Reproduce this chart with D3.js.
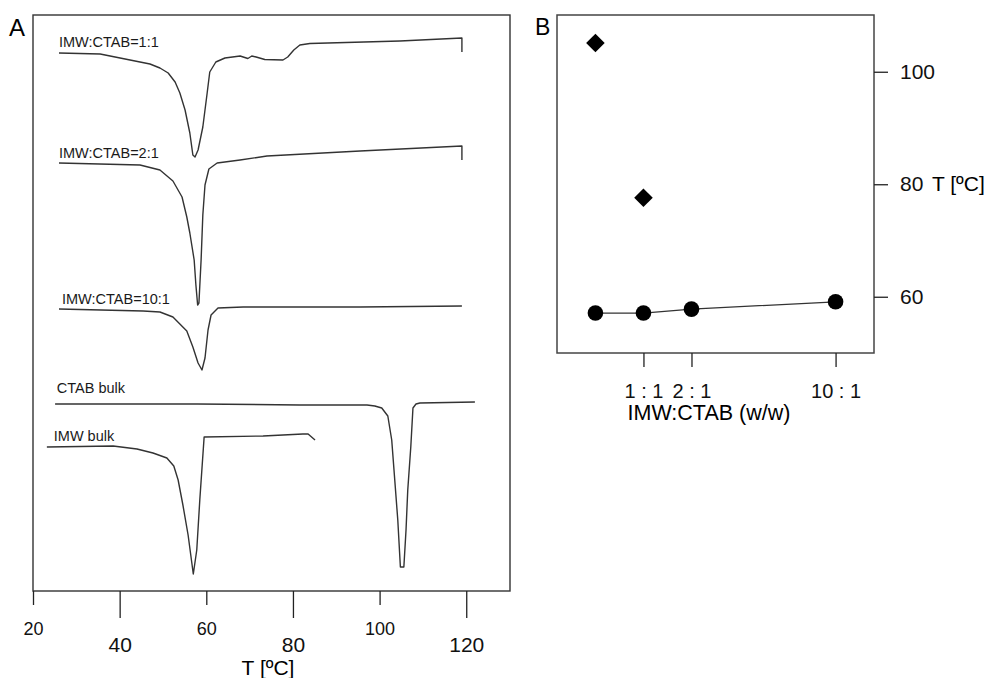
<!DOCTYPE html>
<html lang="en">
<head>
	<meta charset="utf-8">
	<script src="https://d3js.org/d3.v7.min.js"></script>
	<style type="text/css">
		body {
			margin: 0;
			background: #fff;
			font-family: "Liberation Sans", Arial, sans-serif;
		}
	</style>
</head>
<body>
	<script type="text/javascript">

	// Panel A: DSC traces, [T in degC, heat flow in a.u.]
	var trace11 = [[26.0,53.8],[35.5,53.7],[42.4,53.1],[47.0,52.7],[49.3,52.3],[51.2,51.8],[52.8,50.9],[53.9,49.8],
		[55.1,48.1],[56.2,45.8],[56.9,43.6],[57.4,43.4],[58.1,44.1],[59.2,46.4],[60.2,49.8],[60.8,51.9],[62.2,52.9],
		[64.3,53.3],[67.8,53.5],[69.6,53.25],[70.5,53.5],[71.5,53.4],[73.5,53.15],[77.7,53.1],[78.8,53.4],[80.2,54.1],
		[81.6,54.6],[83.9,54.75],[104.7,55.0],[119.0,55.3],[119.0,53.9]];
	var trace21 = [[26.0,42.8],[44.7,42.6],[49.3,42.1],[52.3,41.0],[54.4,39.4],[55.5,37.4],[56.2,35.8],[57.2,33.1],
		[57.6,30.6],[58.0,28.6],[58.3,28.8],[58.8,33.1],[59.2,37.6],[59.7,40.6],[60.6,42.2],[62.5,42.8],[67.8,43.1],
		[74.0,43.5],[95.5,44.0],[119.0,44.5],[119.0,43.1]];
	var trace101 = [[26.0,28.2],[45.4,28.0],[49.3,27.9],[52.3,27.4],[53.9,26.7],[55.5,26.0],[56.9,24.4],[58.1,22.8],
		[59.0,22.1],[59.7,23.3],[60.4,26.1],[61.1,27.6],[62.7,28.3],[68.5,28.4],[95.5,28.4],[119.0,28.5]];
	var ctabBulk = [[25.1,18.7],[57.9,18.7],[81.6,18.6],[97.1,18.6],[98.9,18.5],[100.5,18.3],[101.9,17.5],[102.8,15.1],
		[103.5,11.1],[104.2,7.1],[104.8,2.4],[105.6,2.4],[106.1,6.1],[106.5,10.1],[107.2,14.4],[107.7,18.3],
		[108.4,18.7],[109.3,18.8],[122.0,18.9]];
	var imwBulk = [[23.2,14.4],[38.5,14.5],[44.0,14.2],[47.7,13.8],[50.9,13.3],[52.5,12.5],[53.5,11.1],[54.6,8.6],
		[55.8,5.6],[57.0,1.7],[57.8,4.1],[58.5,9.1],[59.5,15.4],[73.1,15.5],[82.3,15.7],[83.5,15.7],[85.1,15.1]];

	var traceNames = ["IMW:CTAB=1:1", "IMW:CTAB=2:1", "IMW:CTAB=10:1", "CTAB bulk", "IMW bulk"];
	var traceLabelAt = [[26.0,54.4],[26.0,43.3],[26.7,28.7],[25.5,19.8],[24.8,15.0]];
	var ticksA = [20, 40, 60, 80, 100, 120];

	// Panel B: transition temperatures vs mixing ratio
	var ratioPos = [0, 1, 2, 5];
	var ratioTicks = [1, 2, 5];
	var ratioLabels = ["1 : 1", "2 : 1", "10 : 1"];
	var lowPeak = [57.1, 57.1, 57.8, 59.1];
	var highPos = [0, 1];
	var highPeak = [105.1, 77.6];
	var ticksB = [60, 80, 100];

	var width = 985, height = 678;
	var svg = d3.select("body").append("svg")
		.attr("width", width)
		.attr("height", height);

	// ---------- panel A ----------
	var ax = {left: 33, right: 510, top: 15, bottom: 591};
	var xA = d3.scaleLinear().domain([20, 130.1]).range([ax.left, ax.right]);
	var yA = d3.scaleLinear().domain([0, 57.6]).range([ax.bottom, ax.top]);

	svg.append("rect")
		.attr("x", ax.left).attr("y", ax.top)
		.attr("width", ax.right - ax.left).attr("height", ax.bottom - ax.top)
		.style("fill", "none").style("stroke", "#333").style("stroke-width", 1.4);

	var lineA = d3.line()
		.x(function(d) { return xA(d[0]); })
		.y(function(d) { return yA(d[1]); });

	var traces = [trace11, trace21, trace101, ctabBulk, imwBulk];
	svg.selectAll("path.trace")
		.data(traces)
		.enter().append("path")
		.attr("class", "trace")
		.attr("d", lineA)
		.style("fill", "none")
		.style("stroke", "#333")
		.style("stroke-width", 1.4)
		.style("stroke-linejoin", "round");

	svg.selectAll("text.tlabel")
		.data(traceNames)
		.enter().append("text")
		.attr("class", "tlabel")
		.attr("x", function(d, i) { return xA(traceLabelAt[i][0]); })
		.attr("y", function(d, i) { return yA(traceLabelAt[i][1]); })
		.style("font-size", "14.5px")
		.style("fill", "#1a1a1a")
		.text(function(d) { return d; });

	var axisA = svg.append("g")
		.attr("transform", "translate(0," + ax.bottom + ")")
		.call(d3.axisBottom(xA).tickValues(ticksA).tickSizeOuter(0).tickFormat(d3.format("d")));
	axisA.select(".domain").remove();
	axisA.selectAll(".tick line")
		.attr("y2", function(d, i) { return i % 2 ? 27 : 14; })
		.style("stroke", "#222").style("stroke-width", 1.3);
	axisA.selectAll(".tick text")
		.attr("y", function(d, i) { return i % 2 ? 61 : 44; })
		.attr("dy", 0)
		.style("font-family", "'Liberation Sans', Arial, sans-serif")
		.style("font-size", function(d, i) { return i % 2 ? "21px" : "18px"; })
		.style("fill", "#111");

	svg.append("text")
		.attr("x", 268).attr("y", 675)
		.attr("text-anchor", "middle")
		.style("font-size", "21px")
		.text("T [ºC]");

	svg.append("text")
		.attr("x", 9).attr("y", 36)
		.style("font-size", "24px")
		.text("A");

	// ---------- panel B ----------
	var bx = {left: 557, right: 874, top: 15, bottom: 353};
	var xB = d3.scaleLinear().domain([-0.8, 5.8]).range([bx.left, bx.right]);
	var yB = d3.scaleLinear().domain([50, 110]).range([bx.bottom, bx.top + 0.5]);

	svg.append("rect")
		.attr("x", bx.left).attr("y", bx.top)
		.attr("width", bx.right - bx.left).attr("height", bx.bottom - bx.top)
		.style("fill", "none").style("stroke", "#444").style("stroke-width", 1.5);

	var lowPts = ratioPos.map(function(p, i) { return [p, lowPeak[i]]; });
	var highPts = highPos.map(function(p, i) { return [p, highPeak[i]]; });

	svg.append("path")
		.datum(lowPts)
		.attr("d", d3.line().x(function(d) { return xB(d[0]); }).y(function(d) { return yB(d[1]); }))
		.style("fill", "none").style("stroke", "#333").style("stroke-width", 1.2);

	svg.selectAll("circle.low")
		.data(lowPts)
		.enter().append("circle")
		.attr("class", "low")
		.attr("cx", function(d) { return xB(d[0]); })
		.attr("cy", function(d) { return yB(d[1]); })
		.attr("r", 7.8)
		.style("fill", "#000");

	svg.selectAll("path.high")
		.data(highPts)
		.enter().append("path")
		.attr("class", "high")
		.attr("transform", function(d) { return "translate(" + xB(d[0]) + "," + yB(d[1]) + ")"; })
		.attr("d", d3.symbol().type(d3.symbolDiamond2).size(220))
		.style("fill", "#000");

	var axisBx = svg.append("g")
		.attr("transform", "translate(0," + bx.bottom + ")")
		.call(d3.axisBottom(xB).tickValues(ratioTicks).tickSize(14).tickSizeOuter(0)
			.tickFormat(function(d, i) { return ratioLabels[i]; }));
	axisBx.select(".domain").remove();
	axisBx.selectAll(".tick line").style("stroke", "#222").style("stroke-width", 1.3);
	axisBx.selectAll(".tick text")
		.attr("y", 45).attr("dy", 0)
		.style("font-family", "'Liberation Sans', Arial, sans-serif")
		.style("font-size", "20px").style("fill", "#111");

	svg.append("text")
		.attr("x", 709).attr("y", 420)
		.attr("text-anchor", "middle")
		.style("font-size", "21.5px")
		.text("IMW:CTAB (w/w)");

	var axisBy = svg.append("g")
		.attr("transform", "translate(" + bx.right + ",0)")
		.call(d3.axisRight(yB).tickValues(ticksB).tickSize(14).tickSizeOuter(0).tickPadding(12));
	axisBy.select(".domain").remove();
	axisBy.selectAll(".tick line").style("stroke", "#222").style("stroke-width", 1.3);
	axisBy.selectAll(".tick text")
		.style("font-family", "'Liberation Sans', Arial, sans-serif")
		.style("font-size", "21px").style("fill", "#111");

	svg.append("text")
		.attr("x", 932).attr("y", yB(80))
		.attr("dy", "0.32em")
		.style("font-size", "21px")
		.text("T [ºC]");

	svg.append("text")
		.attr("x", 535).attr("y", 35)
		.style("font-size", "23px")
		.text("B");
	</script>
</body>
</html>
